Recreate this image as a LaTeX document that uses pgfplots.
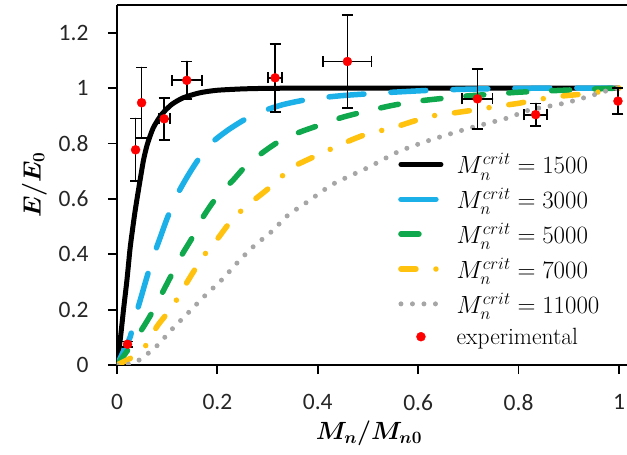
\documentclass[border=0pt]{standalone}
\usepackage{fontspec}
\setmainfont{Latin Modern Roman}
\newfontfamily\tickfont{Carlito}
\usepackage{amsmath}
\usepackage{pgfplots}
\usepackage{pgfplotstable}
\pgfplotsset{compat=1.18}
\definecolor{cblue}{HTML}{1CB0E8}
\definecolor{cgreen}{HTML}{10A84C}
\definecolor{cyellow}{HTML}{FFC20E}
\definecolor{cgray}{HTML}{A6A6A6}
\definecolor{cred}{HTML}{FF0000}

\pgfplotsset{
  lineleg/.style={legend image code/.code={\draw[##1] (0pt,0pt) -- (40pt,0pt);}},
  dotleg/.style={legend image code/.code={\draw[##1] plot coordinates {(20pt,0pt)};}},
}

% experimental points: x, y, x error, y error
\pgfplotstableread{
x      y      ex     ey
0.094  0.889  0.011  0.076
0.139  1.028  0.030  0.068
0.315  1.037  0.014  0.122
0.459  1.096  0.048  0.167
0.718  0.961  0.030  0.108
0.834  0.904  0.023  0.040
}\expxy
% experimental points with an error in y only
\pgfplotstableread{
x      y      ey
0.021  0.075  0.010
0.037  0.777  0.113
0.049  0.947  0.127
0.998  0.953  0.046
}\expy

\begin{document}
\begin{tikzpicture}
\path[use as bounding box] (-117pt,-90pt) rectangle (510pt,365pt);
\begin{axis}[
  scale only axis, width=510pt, height=360pt,
  xmin=0, xmax=1.016, ymin=0, ymax=1.3,
  axis x line=box, axis y line=left,
  axis line style={-, line width=1.8pt, black},
  xtick={0,0.2,0.4,0.6,0.8,1},
  ytick={0,0.2,0.4,0.6,0.8,1,1.2},
  xtick pos=bottom, ytick pos=left,
  tick align=outside, major tick length=9pt,
  tick style={black, line width=1.8pt},
  /pgf/number format/assume math mode=true,
  tick label style={font=\tickfont\fontsize{23.5}{27}\selectfont, text=black!85},
  yticklabel shift=16pt,
  xticklabel style={yshift=-17pt},
  xlabel={$\boldsymbol{M_n/M_{n0}}$},
  ylabel={$\boldsymbol{E/E_0}$},
  label style={font=\fontsize{25}{29}\selectfont},
  xlabel style={at={(axis description cs:0.494,-0.19)}, anchor=center},
  ylabel style={at={(axis description cs:-0.162,0.5)}, anchor=center},
  every axis plot/.append style={line cap=round, line join=round, lineleg},
  legend style={draw=none, fill=none, inner sep=0pt,
    at={(axis description cs:0.551,0.588)}, anchor=north west,
    font=\fontsize{23.5}{28}\selectfont,
    row sep=13pt, column sep=13pt,
    nodes={inner sep=0pt}},
  legend cell align=left,
  error bars/error bar style={black, line width=1.8pt},
  error bars/error mark options={black, line width=1.8pt, mark size=5.5pt, rotate=90},
]
% M_n^crit = 1500
\addplot[black, line width=5pt, smooth, tension=0.4] coordinates {
(0,0) (0.007,0.10) (0.013,0.20) (0.020,0.31) (0.026,0.42) (0.031,0.49)
(0.036,0.555) (0.0425,0.629) (0.0525,0.737) (0.0604,0.797) (0.0724,0.857)
(0.089,0.905) (0.109,0.941) (0.132,0.965) (0.165,0.983) (0.199,0.992)
(0.25,0.997) (0.30,0.999) (0.40,1) (0.6,1) (0.8,1) (1,1)};
\addlegendentry{$M_n^{crit}=1500$}
% M_n^crit = 3000
\addplot[cblue, line width=5.5pt, dash pattern=on 35pt off 27pt, smooth, tension=0.4] coordinates {
(0,0) (0.013,0.05) (0.026,0.10) (0.036,0.17) (0.048,0.245) (0.060,0.32)
(0.072,0.39) (0.086,0.46) (0.100,0.53) (0.120,0.615) (0.140,0.68)
(0.160,0.737) (0.185,0.797) (0.220,0.847) (0.255,0.887) (0.291,0.917)
(0.330,0.940) (0.371,0.956) (0.411,0.966) (0.450,0.973) (0.497,0.979)
(0.540,0.984) (0.624,0.992) (0.70,0.996) (0.80,0.999) (0.90,1) (1,1)};
\addlegendentry{$M_n^{crit}=3000$}
% M_n^crit = 5000
\addplot[cgreen, line width=5.5pt, dash pattern=on 18pt off 25pt, smooth, tension=0.4] coordinates {
(0,0) (0.02,0.05) (0.05,0.13) (0.07,0.19) (0.09,0.26) (0.11,0.33)
(0.13,0.40) (0.15,0.46) (0.17,0.53) (0.19,0.585) (0.21,0.63) (0.23,0.665)
(0.26,0.725) (0.30,0.78) (0.33,0.815) (0.37,0.845) (0.41,0.87) (0.45,0.895)
(0.50,0.918) (0.55,0.938) (0.60,0.953) (0.65,0.963) (0.70,0.972)
(0.75,0.978) (0.80,0.985) (0.90,0.993) (1,1)};
\addlegendentry{$M_n^{crit}=5000$}
% M_n^crit = 7000
\addplot[cyellow, line width=5.5pt, dash pattern=on 15pt off 20pt on 0pt off 20pt, smooth, tension=0.4] coordinates {
(0,0) (0.036,0.034) (0.06,0.076) (0.08,0.14) (0.11,0.21) (0.13,0.27)
(0.15,0.33) (0.175,0.40) (0.20,0.455) (0.225,0.515) (0.255,0.57)
(0.29,0.62) (0.32,0.665) (0.345,0.71) (0.39,0.75) (0.43,0.783)
(0.47,0.815) (0.50,0.835) (0.55,0.857) (0.59,0.88) (0.63,0.90)
(0.67,0.91) (0.72,0.923) (0.76,0.935) (0.80,0.945) (0.84,0.959)
(0.88,0.97) (0.92,0.977) (0.96,0.986) (1,1)};
\addlegendentry{$M_n^{crit}=7000$}
% M_n^crit = 11000
\addplot[cgray, line width=5pt, dash pattern=on 0pt off 11.5pt, smooth, tension=0.4] coordinates {
(0,0) (0.03,0.005) (0.05,0.025) (0.08,0.07) (0.11,0.13) (0.14,0.185)
(0.175,0.25) (0.21,0.31) (0.24,0.37) (0.27,0.425) (0.31,0.485)
(0.34,0.54) (0.38,0.59) (0.43,0.653) (0.50,0.713) (0.56,0.77)
(0.62,0.81) (0.69,0.849) (0.73,0.869) (0.78,0.893) (0.82,0.92)
(0.89,0.945) (0.94,0.97) (0.975,0.99) (1,1)};
\addlegendentry{$M_n^{crit}=11000$}
% experimental data
\addplot[only marks, mark=*, mark size=4.5pt, mark options={fill=cred, draw=cred},
  forget plot,
  error bars/.cd, y dir=both, y explicit]
  table[x=x, y=y, y error=ey] {\expy};
\addplot[only marks, mark=*, mark size=4.5pt, mark options={fill=cred, draw=cred},
  dotleg,
  error bars/.cd, x dir=both, x explicit, y dir=both, y explicit]
  table[x=x, y=y, x error=ex, y error=ey] {\expxy};
\addlegendentry{experimental}
\end{axis}
\end{tikzpicture}
\end{document}
